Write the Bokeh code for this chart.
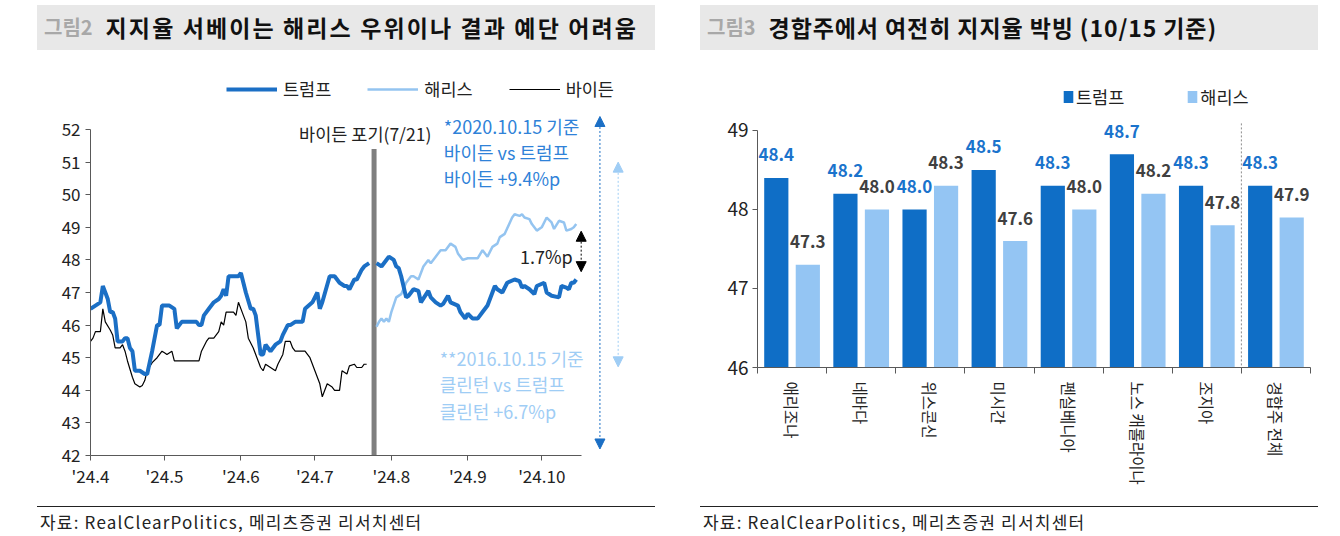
import math
from datetime import date
from bokeh.plotting import figure
from bokeh.models import (ColumnDataSource, Legend, Label, Arrow, NormalHead,
                          FixedTicker, Div, Range1d)
from bokeh.layouts import row, column
from bokeh.transform import dodge
from bokeh.core.properties import value
from bokeh.embed import file_html
from bokeh.resources import INLINE

FONT = "Noto Sans CJK KR"
NAN = float("nan")

# ---------------- data: left chart (RCP average, %), x = days since 2024-04-01
trump_day = [0, 2, 4, 5, 7, 8, 9, 10, 11, 13, 14, 15, 16, 17, 18, 20, 22, 23, 25, 27,
             28, 29, 32, 34, 35, 36, 37, 43, 44, 45, 46, 48, 50, 52, 53, 54, 55, 56, 60, 61,
             63, 65, 66, 67, 68, 69, 70, 71, 73, 75, 77, 78, 80, 81, 83, 86, 87, 90, 92, 93,
             94, 97, 99, 101, 103, 104, 105, 107, 108, 110, 111, 113, 114,
             116, 118, 120, 121, 123, 124, 125, 126, 128, 129, 131, 133, 134, 137, 138, 140, 142,
             143, 145, 146, 149, 150, 152, 153, 155, 157, 159, 161, 162, 164, 165, 167, 169, 172,
             174, 175, 176, 178, 180, 181, 184, 185, 187, 190, 191, 193, 194, 195, 196, 197]
trump_pct = [46.5, 46.6, 46.7, 47.2, 46.8, 46.4, 46.4, 46.2, 45.5, 45.5, 45.6, 45.6, 45.3, 45.2, 44.6, 44.6, 44.5, 44.5, 45.2, 46.0,
             46.0, 46.6, 46.6, 46.5, 45.9, 46.0, 46.1, 46.1, 46.0, 46.0, 46.3, 46.5, 46.7, 46.8, 46.9, 47.1, 46.9, 47.5, 47.5, 47.6,
             47.0, 46.5, 46.5, 46.3, 45.7, 45.1, 45.1, 45.4, 45.2, 45.4, 45.5, 45.7, 46.0, 46.0, 46.1, 46.1, 46.5, 46.7, 47.0, 46.5,
             46.7, 47.5, 47.5, 47.3, 47.2, 47.2, 47.1, 47.4, 47.4, 47.7, 47.8, 47.9, NAN,
             47.9, 47.8, 48.0, 48.1, 48.0, 47.8, 47.75, 47.5, 46.85, 46.9, 47.1, 47.05, 46.7, 47.05, 46.85, 46.7, 46.6,
             46.65, 46.9, 46.7, 46.6, 46.4, 46.2, 46.35, 46.2, 46.2, 46.4, 46.6, 46.8, 47.2, 47.1, 47.0, 47.3, 47.4,
             47.35, 47.15, 47.2, 47.1, 46.95, 47.2, 47.3, 47.0, 46.9, 46.85, 47.2, 47.15, 47.1, 47.3, 47.3, 47.4]

harris_day = [116, 117, 118, 119, 120, 121, 122, 124, 126, 128, 130, 131, 133, 135, 137, 138, 140, 142, 144, 146,
              148, 149, 151, 153, 157, 159, 161, 163, 165, 166, 168, 171, 172, 174, 175, 176, 178, 179, 181, 183,
              185, 187, 188, 190, 192, 193, 195, 196, 197]
harris_pct = [45.95, 46.1, 46.2, 46.1, 46.2, 46.1, 46.4, 46.85, 46.95, 47.3, 47.5, 47.5, 47.4, 47.8, 48.0, 47.9, 48.1, 48.3, 48.3, 48.5,
              48.4, 48.2, 48.0, 48.05, 48.05, 48.3, 48.1, 48.4, 48.5, 48.7, 48.8, 49.3, 49.4, 49.35, 49.4, 49.3, 49.25, 49.1, 48.9, 49.0,
              49.3, 49.15, 48.95, 49.2, 49.15, 48.9, 48.95, 49.0, 49.1]

biden_day = [0, 1, 2, 4, 5, 6, 8, 9, 10, 12, 13, 14, 15, 17, 18, 20, 21, 22, 23, 25,
             27, 29, 30, 31, 33, 34, 44, 45, 47, 48, 50, 52, 53, 54, 55, 58, 59, 60, 62, 63,
             64, 66, 68, 69, 70, 71, 73, 75, 76, 78, 79, 81, 82, 83, 87, 88, 89, 91, 93, 94,
             96, 98, 99, 101, 102, 104, 105, 107, 108, 110, 111, 112]
biden_pct = [45.5, 45.6, 45.8, 45.8, 46.5, 46.1, 45.85, 45.7, 45.3, 45.3, 45.4, 45.2, 44.9, 44.4, 44.2, 44.1, 44.15, 44.3, 44.6, 44.85,
             45.0, 45.2, 45.15, 45.1, 45.2, 44.9, 44.9, 45.2, 45.5, 45.6, 45.6, 45.8, 46.1, 46.0, 46.4, 46.4, 46.3, 46.7, 46.3, 46.1,
             45.6, 45.3, 44.9, 44.7, 44.6, 44.8, 44.7, 44.6, 44.8, 45.1, 45.5, 45.5, 45.3, 45.2, 45.2, 45.1, 45.0, 44.6, 44.2, 43.8,
             44.2, 44.1, 44.0, 44.0, 44.6, 44.5, 44.75, 44.8, 44.7, 44.7, 44.8, 44.8]

assert len(trump_day) == len(trump_pct)
assert len(harris_day) == len(harris_pct)
assert len(biden_day) == len(biden_pct)

month_dates = [date(2024, m, 1) for m in range(4, 11)]
month_labels = ["'24.4", "'24.5", "'24.6", "'24.7", "'24.8", "'24.9", "'24.10"]
dropout_day = 115          # Biden drop-out marker (7/21)
last_day = 197             # 2024-10-15
gap_harris, gap_trump = 49.1, 47.4

# ---------------- data: right chart (swing states, 10/15)
states = ["애리조나", "네바다", "위스콘신", "미시간", "펜실베니아", "노스 캐롤라이나", "조지아", "경합주 전체"]
trump_state = [48.4, 48.2, 48.0, 48.5, 48.3, 48.7, 48.3, 48.3]
harris_state = [47.3, 48.0, 48.3, 47.6, 48.0, 48.2, 47.8, 47.9]

# ---------------- colours
C_TRUMP = "#1b6fc5"
C_HARRIS = "#94c4f0"
C_NOTE1 = "#2f82d8"
C_NOTE2 = "#9fcdf5"
C_AXIS = "#595959"
C_TEXT = "#222222"

# ================= left chart
base = month_dates[0]
tick_days = [(d - base).days for d in month_dates]

p1 = figure(width=660, height=450, x_range=Range1d(0, 219), y_range=Range1d(42, 53.75),
            output_backend="svg", toolbar_location=None,
            min_border_left=82, min_border_right=38, min_border_top=22, min_border_bottom=45)
p1.outline_line_color = None
p1.xgrid.visible = False
p1.ygrid.visible = False

p1.segment(x0=[dropout_day], y0=[42], x1=[dropout_day], y1=[51.4], line_width=5, line_color="#7f7f7f")
r_b = p1.line(biden_day, biden_pct, line_color="black", line_width=1.2)
r_h = p1.line(harris_day, harris_pct, line_color=C_HARRIS, line_width=2.5)
r_t = p1.line(trump_day, trump_pct, line_color=C_TRUMP, line_width=4)

for ax in (p1.xaxis[0], p1.yaxis[0]):
    ax.axis_line_color = C_AXIS
    ax.major_tick_line_color = C_AXIS
    ax.major_tick_out = 5
    ax.major_tick_in = 0
    ax.minor_tick_line_color = None
    ax.major_label_text_font = FONT
    ax.major_label_text_font_size = "17px"
    ax.major_label_text_color = C_TEXT
p1.yaxis.ticker = FixedTicker(ticks=list(range(42, 53)))
p1.yaxis.bounds = (42, 52)
p1.yaxis.major_label_standoff = 5
p1.xaxis.ticker = FixedTicker(ticks=tick_days)
p1.xaxis.major_label_overrides = {d: lab for d, lab in zip(tick_days, month_labels)}
p1.xaxis.bounds = (0, 199)
p1.xaxis.major_label_standoff = 2

leg1 = Legend(items=[("트럼프", [r_t]), ("해리스", [r_h]), ("바이든", [r_b])],
              orientation="horizontal", location=(136, 354), glyph_width=51, glyph_height=20,
              label_height=20, label_standoff=6, spacing=36, padding=0, margin=0,
              border_line_color=None, background_fill_alpha=0,
              label_text_font=FONT, label_text_font_size="17.5px", label_text_color=C_TEXT)
p1.add_layout(leg1)

def lab(p, x, y, text, color=C_TEXT, size="17px", align="left", weight="normal"):
    p.add_layout(Label(x=x, y=y, text=text, text_color=color, text_font=FONT, text_font_size=size,
                       text_align=align, text_baseline="middle", text_font_style=weight))

lab(p1, -6.1, 53.0, "(%)", size="17px", align="center")
lab(p1, 111.4, 51.88, "바이든 포기(7/21)", size="17.5px", align="center")
for yy, t in zip([52.12, 51.31, 50.5], ["*2020.10.15 기준", "바이든 vs 트럼프", "바이든 +9.4%p"]):
    lab(p1, 143.3, yy, t, color=C_NOTE1, size="18px")
for yy, t in zip([45.0, 44.18, 43.36], ["**2016.10.15 기준", "클린턴 vs 트럼프", "클린턴 +6.7%p"]):
    lab(p1, 141.6, yy, t, color=C_NOTE2, size="18px")
lab(p1, 184.9, 48.13, "1.7%p", size="18px", align="center")

def dbl_arrow(p, x, y0, y1, color):
    p.add_layout(Arrow(x_start=x, y_start=y0, x_end=x, y_end=y1,
                       start=NormalHead(size=10, fill_color=color, line_color=color),
                       end=NormalHead(size=10, fill_color=color, line_color=color),
                       line_color=color, line_width=1, line_dash="2 2"))

dbl_arrow(p1, last_day + 2, gap_trump + 0.24, gap_harris - 0.22, "black")
dbl_arrow(p1, 206.6, 42.2, 52.4, C_TRUMP)
dbl_arrow(p1, 214, 44.72, 51.0, C_NOTE2)

# ================= right chart
xs = list(range(1, len(states) + 1))
src = ColumnDataSource(dict(x=xs, trump=trump_state, harris=harris_state,
                            tlab=[f"{v:.1f}" for v in trump_state],
                            hlab=[f"{v:.1f}" for v in harris_state]))

p2 = figure(width=664, height=450, x_range=Range1d(0.5, len(states) + 0.5), y_range=Range1d(46, 49.734),
            output_backend="svg", toolbar_location=None,
            min_border_left=89, min_border_right=22, min_border_top=22, min_border_bottom=133)
p2.outline_line_color = None
p2.xgrid.visible = False
p2.ygrid.visible = False

OFF, W = 0.228, 0.35
r_tr = p2.vbar(x=dodge("x", -OFF, range=p2.x_range), top="trump", bottom=46, width=W,
               fill_color="#0f6ec6", line_color=None, source=src)
r_hr = p2.vbar(x=dodge("x", OFF, range=p2.x_range), top="harris", bottom=46, width=W,
               fill_color="#94c5f3", line_color=None, source=src)
p2.text(x=dodge("x", -OFF, range=p2.x_range), y="trump", text="tlab", source=src,
        text_align="center", text_baseline="middle", y_offset=-23,
        text_color="#1a73cc", text_font=value(FONT), text_font_size=value("17px"),
        text_font_style=value("bold"))
p2.text(x=dodge("x", OFF, range=p2.x_range), y="harris", text="hlab", source=src,
        text_align="center", text_baseline="middle", y_offset=-23,
        text_color="#404040", text_font=value(FONT), text_font_size=value("17px"),
        text_font_style=value("bold"))

# dashed separator before the "all swing states" group, reaching down into the label area
sep = len(states) - 0.5
p2.add_layout(Arrow(x_start=sep, y_start=49.09, x_end=sep, y_end=44.66, start=None, end=None,
                    line_color="#8c8c8c", line_width=1, line_dash="2 2"))

for ax in (p2.xaxis[0], p2.yaxis[0]):
    ax.axis_line_color = C_AXIS
    ax.major_tick_line_color = C_AXIS
    ax.major_tick_out = 5
    ax.major_tick_in = 0
    ax.minor_tick_line_color = None
    ax.major_label_text_font = FONT
    ax.major_label_text_color = C_TEXT
p2.yaxis.ticker = FixedTicker(ticks=[46, 47, 48, 49])
p2.yaxis.bounds = (46, 49)
p2.yaxis.major_label_text_font_size = "19px"
p2.yaxis.major_label_standoff = 4
p2.xaxis.ticker = FixedTicker(ticks=xs, minor_ticks=[i + 0.5 for i in range(len(states) + 1)])
p2.xaxis.major_tick_line_color = None
p2.xaxis.minor_tick_line_color = C_AXIS
p2.xaxis.minor_tick_out = 6
p2.xaxis.minor_tick_in = 0
p2.xaxis.major_label_overrides = {x: s for x, s in zip(xs, states)}
p2.xaxis.major_label_orientation = -math.pi / 2
p2.xaxis.major_label_text_font_size = "15.5px"
p2.xaxis.major_label_standoff = 8

leg2 = Legend(items=[("트럼프", [r_tr]), ("해리스", [r_hr])],
              orientation="horizontal", location=(305, 258), glyph_width=12, glyph_height=15,
              label_height=20, label_standoff=2, spacing=62, padding=0, margin=0,
              border_line_color=None, background_fill_alpha=0,
              label_text_font=FONT, label_text_font_size="17.5px", label_text_color=C_TEXT)
p2.add_layout(leg2)
lab(p2, 0.18, 49.42, "(%)", size="17px", align="center")

# ================= titles and sources
def title_div(num, text, left, width, spacing):
    html = (f'<div style="margin-left:{left}px;width:618px;height:45px;background:#e8e8e8;'
            f'display:flex;align-items:center;font-family:\'{FONT}\';font-weight:700;white-space:nowrap;">'
            f'<span style="color:#a8a8a8;font-size:20px;margin-left:7px;">{num}</span>'
            f'<span style="color:#111;font-size:23px;margin-left:13px;letter-spacing:{spacing}px;">{text}</span></div>')
    return Div(text=html, width=width, height=45, margin=(0, 0, 0, 0))

def source_div(left, width):
    html = (f'<div style="margin-left:{left}px;width:618px;margin-top:6px;border-top:1.5px solid #222;'
            f'padding-top:5px;padding-left:3px;font-family:\'{FONT}\';font-size:17px;color:#222;'
            f'letter-spacing:1.2px;line-height:20px;white-space:nowrap;">자료: RealClearPolitics, 메리츠증권 리서치센터</div>')
    return Div(text=html, width=width, height=34, margin=(0, 0, 0, 0))

t1 = title_div("그림2", "지지율 서베이는 해리스 우위이나 결과 예단 어려움", 29, 660, 2.1)
t2 = title_div("그림3", "경합주에서 여전히 지지율 박빙 (10/15 기준)", 32, 664, 0.9)
s1 = source_div(29, 660)
s2 = source_div(32, 664)

layout = row(column(t1, p1, s1, spacing=0), column(t2, p2, s2, spacing=0), spacing=0,
             margin=(5, 0, 0, 8))
open("out.html", "w").write(file_html(layout, INLINE))
